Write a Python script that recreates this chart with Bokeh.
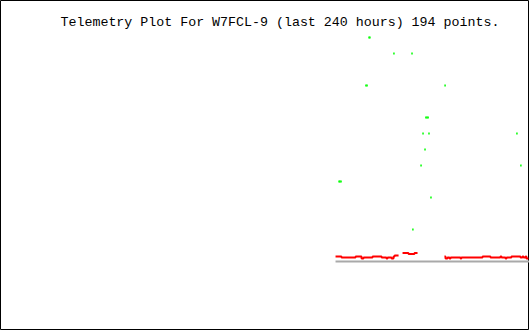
from bokeh.plotting import figure
from bokeh.models import Range1d, Label
from bokeh.embed import file_html
from bokeh.resources import INLINE

title_text = "Telemetry Plot For W7FCL-9 (last 240 hours) 194 points."

# green series: hours relative to now, value
green_hours = [-72.8, -72.4, -61.5, -53.3, -74.2, -73.7, -38.3, -47.0, -46.5, -46.0,
               -48.3, -45.6, -5.7, -47.4, -49.2, -3.9, -86.4, -86.0, -85.5, -44.7, -52.9]
green_values = [14, 14, 13, 13, 11, 11, 11, 9, 9, 9,
                8, 8, 8, 7, 6, 6, 5, 5, 5, 4, 2]

# red series, three runs of readings (value held until next reading)
red1_hours = [-88.0, -85.3, -78.9, -76.2, -75.3, -71.2, -67.1, -64.9, -64.4, -62.6, -61.7, -61.2, -59.4]
red1_values = [0.3125, 0.25, 0.3125, 0.1875, 0.25, 0.3125, 0.25, 0.1875, 0.25, 0.1875, 0.3125, 0.375, 0.375]

red2_hours = [-57.6, -54.9, -52.2, -50.8]
red2_values = [0.53, 0.47, 0.53, 0.53]

red3_hours = [-38.6, -38.1, -37.2, -36.3, -35.8, -31.3, -30.9, -21.3, -17.7, -13.2,
              -12.7, -10.9, -10.4, -8.2, -4.1, -3.2, -2.7, -1.8, -1.4, -0.5]
red3_values = [0.3125, 0.1875, 0.25, 0.1875, 0.25, 0.1875, 0.25, 0.3125, 0.25, 0.3125,
               0.25, 0.1875, 0.25, 0.3125, 0.25, 0.3125, 0.25, 0.3125, 0.1875, 0.1875]

zero_hours = [red1_hours[0], 0]
zero_values = [0, 0]

p = figure(width=529, height=330, output_backend="svg", toolbar_location=None,
           x_range=Range1d(-240, 0), y_range=Range1d(-4.3125, 16.3125),
           x_axis_type=None, y_axis_type=None, min_border=0,
           background_fill_color="white", border_fill_color="white")
p.grid.visible = False
p.outline_line_color = "black"
p.outline_line_width = 1

p.line(zero_hours, zero_values, line_color="#a9a9a9", line_width=2)

for xs, ys in ((red1_hours, red1_values), (red2_hours, red2_values), (red3_hours, red3_values)):
    p.step(xs, ys, mode="after", line_color="#ff0000", line_width=2)

p.rect(green_hours, green_values, width=1.5, height=2, width_units="screen", height_units="screen",
       fill_color="#00ff00", line_color=None)

p.add_layout(Label(x=60, y=308, x_units="screen", y_units="screen", text=title_text,
                   text_font="Liberation Mono", text_font_size="13.3px",
                   text_baseline="alphabetic", text_color="black"))

open("out.html", "w").write(file_html(p, INLINE))
